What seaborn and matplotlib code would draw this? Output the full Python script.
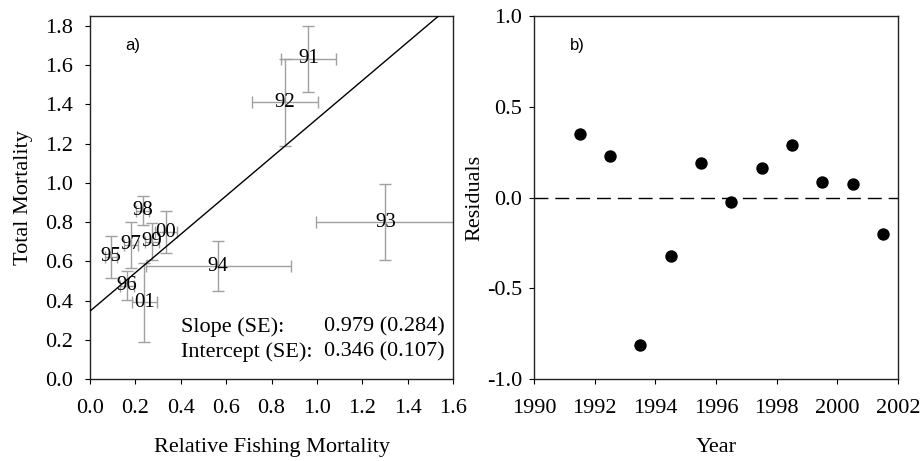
import numpy as np
import pandas as pd
import matplotlib
matplotlib.use('Agg')
import matplotlib.pyplot as plt
import seaborn as sns

# panel a) data: relative fishing mortality vs total mortality
yr_lab = ['91', '92', '93', '94', '95', '96', '97', '98', '99', '00', '01']
rel_f = [0.963, 0.860, 1.302, 0.565, 0.093, 0.162, 0.181, 0.232, 0.272, 0.335, 0.240]
rel_f_se = [0.120, 0.147, 0.307, 0.320, 0.025, 0.030, 0.030, 0.030, 0.030, 0.050, 0.057]
tot_z = [1.632, 1.411, 0.799, 0.575, 0.622, 0.476, 0.683, 0.858, 0.700, 0.748, 0.390]
tot_z_se = [0.168, 0.222, 0.193, 0.128, 0.107, 0.074, 0.115, 0.074, 0.094, 0.108, 0.200]
slope = 0.979
intercept = 0.346

# panel b) data: residuals by year
years = [1991.5, 1992.5, 1993.5, 1994.5, 1995.5, 1996.5, 1997.5, 1998.5, 1999.5, 2000.5, 2001.5]
resid = [0.351, 0.227, -0.814, -0.321, 0.188, -0.026, 0.164, 0.288, 0.085, 0.076, -0.203]

sns.set_style('ticks')
plt.rcParams['font.family'] = ['Liberation Serif', 'DejaVu Serif']
plt.rcParams['font.size'] = 16
plt.rcParams['text.color'] = 'black'
plt.rcParams['axes.labelcolor'] = 'black'
plt.rcParams['axes.linewidth'] = 1.0
plt.rcParams['axes.edgecolor'] = '#222222'
plt.rcParams['xtick.direction'] = 'out'
plt.rcParams['ytick.direction'] = 'out'
plt.rcParams['xtick.major.size'] = 3.5
plt.rcParams['ytick.major.size'] = 3.5
plt.rcParams['xtick.color'] = 'black'
plt.rcParams['ytick.color'] = 'black'

fig = plt.figure(figsize=(9.22, 4.61), dpi=100)
ax1 = fig.add_axes([90/922, 1-379/461, 363/922, 363/461])
ax2 = fig.add_axes([534/922, 1-379/461, 364/922, 363/461])

# ---- panel a
ax1.errorbar(rel_f, tot_z, xerr=rel_f_se, yerr=tot_z_se, fmt='none',
             ecolor='#a0a0a0', elinewidth=1.0, capsize=4, capthick=1.0, zorder=2)
for lab, xv, yv in zip(yr_lab, rel_f, tot_z):
    ax1.text(xv, yv, lab, ha='center', va='center', fontsize=15, zorder=3)

xl = np.array([0.0, 1.6])
line_df = pd.DataFrame({'x': xl, 'y': intercept + slope * xl})
sns.lineplot(data=line_df, x='x', y='y', ax=ax1, color='black', linewidth=1.0, zorder=4)

ax1.set_xlim(0, 1.6)
ax1.set_ylim(0, 1.85)
ax1.set_xticks(np.arange(0, 1.61, 0.2))
ax1.set_yticks(np.arange(0, 1.81, 0.2))
ax1.set_xticklabels(['%.1f' % v for v in np.arange(0, 1.61, 0.2)])
ax1.set_yticklabels(['%.1f' % v for v in np.arange(0, 1.81, 0.2)])
ax1.set_xlabel('Relative Fishing Mortality')
ax1.set_ylabel('Total Mortality')
ax1.text(0.154, 1.70, 'a)', family='Liberation Sans', fontsize=12, va='center')
ax1.text(0.40, 0.266, 'Slope (SE):', va='center')
ax1.text(1.032, 0.266, '%.3f (%.3f)' % (slope, 0.284), va='center')
ax1.text(0.40, 0.139, 'Intercept (SE):', va='center')
ax1.text(1.032, 0.139, '%.3f (%.3f)' % (intercept, 0.107), va='center')

# ---- panel b
res_df = pd.DataFrame({'year': years, 'resid': resid})
sns.scatterplot(data=res_df, x='year', y='resid', ax=ax2, color='black', s=80,
                edgecolor='black', linewidth=0, zorder=3)
ax2.axhline(0, color='black', linewidth=1.0, dashes=(10, 5), zorder=2)
ax2.set_xlim(1990, 2002)
ax2.set_ylim(-1, 1)
ax2.set_xticks(np.arange(1990, 2003, 2))
ax2.set_yticks([-1, -0.5, 0, 0.5, 1])
ax2.set_yticklabels(['-1.0', '-0.5', '0.0', '0.5', '1.0'])
ax2.set_xlabel('Year')
ax2.set_ylabel('Residuals')
ax2.text(1991.2, 0.837, 'b)', family='Liberation Sans', fontsize=12, va='center')

ax1.tick_params(axis='y', pad=9)
ax2.tick_params(axis='y', pad=5)
for ax, ylab_x in ((ax1, -0.183), (ax2, -0.162)):
    ax.tick_params(top=False, right=False)
    ax.tick_params(axis='x', pad=11)
    ax.xaxis.set_label_coords(0.5, -0.19)
    ax.xaxis.label.set_va('center')
    ax.yaxis.set_label_coords(ylab_x, 0.5)
    ax.yaxis.label.set_va('center')
    for sp in ax.spines.values():
        sp.set_visible(True)

fig.savefig('out.png', dpi=100)
